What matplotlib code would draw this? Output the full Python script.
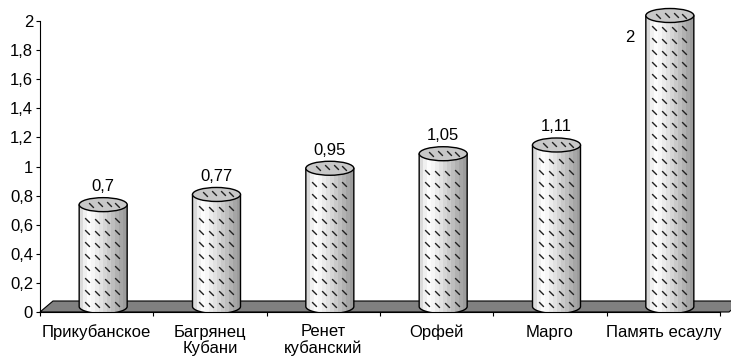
import numpy as np
import matplotlib.pyplot as plt
from matplotlib.patches import Ellipse, Polygon
from matplotlib.colors import ListedColormap

varieties = ['Прикубанское', 'Багрянец\nКубани', 'Ренет\nкубанский', 'Орфей', 'Марго', 'Память есаулу']
values = [0.7, 0.77, 0.95, 1.05, 1.11, 2]
value_labels = ['0,7', '0,77', '0,95', '1,05', '1,11', '2']
yticks = [0, 0.2, 0.4, 0.6, 0.8, 1, 1.2, 1.4, 1.6, 1.8, 2]
ytick_labels = ['0', '0,2', '0,4', '0,6', '0,8', '1', '1,2', '1,4', '1,6', '1,8', '2']

plt.rcParams['font.family'] = ['Liberation Sans', 'DejaVu Sans']
plt.rcParams['font.size'] = 12

W, H = 731, 360
left, right, bottom, top = 40, 720, 312, 21
fig = plt.figure(figsize=(W / 100, H / 100), dpi=100)

n = len(values)
px = n / (right - left)      # data units per pixel, x
py = 2 / (bottom - top)      # data units per pixel, y
head = 18                    # spare pixels above the top tick so tall bars aren't clipped
ax = fig.add_axes([left / W, (H - bottom) / H, (right - left) / W, (bottom - top + head) / H])
depth_x, depth_y = 13 * px, 11 * py

# floor slab
floor = Polygon([(-0.5, 0), (-0.5 + depth_x, depth_y), (n - 0.5 + 9 * px + depth_x, depth_y),
                 (n - 0.5 + 9 * px, 0)], closed=True, facecolor='#808080',
                edgecolor='black', lw=0.8, clip_on=False, zorder=1)
ax.add_patch(floor)

shade = ListedColormap(['#dadada', '#f0f0f0', '#fcfcfc', '#f6f6f6', '#ececec', '#e2e2e2',
                        '#d6d6d6', '#cacaca', '#bebebe', '#b2b2b2', '#a6a6a6', '#9c9c9c'])
grad = np.linspace(0, 1, 256).reshape(1, -1)

a = 24 * px   # cylinder half width
b = 7 * py    # half height of end ellipses
t = np.linspace(np.pi, 2 * np.pi, 60)
dash = [(-1, 1), (1, -1)]

for i, (v, lab) in enumerate(zip(values, value_labels)):
    cx = i + depth_x / 2
    yb = depth_y / 2
    yt = v + depth_y / 2
    ex = cx + a * np.cos(t)
    ey = yb + b * np.sin(t)
    body = np.vstack([[cx - a, yt], np.column_stack([ex, ey]), [cx + a, yt]])
    im = ax.imshow(grad, cmap=shade, extent=(cx - a, cx + a, 0, yt), aspect='auto',
                   zorder=2, interpolation='nearest')
    im.set_clip_path(Polygon(body, closed=True, transform=ax.transData))
    ax.add_patch(Polygon(body, closed=True, facecolor='none', edgecolor='black', lw=1.0, zorder=3))
    ax.add_patch(Ellipse((cx, yt), 2 * a, 2 * b, facecolor='#c8c8c8', edgecolor='black',
                         lw=1.0, zorder=4))

    # dash texture on the side and the top
    for off in [-16, -6, 4, 14]:
        xd = cx + off * px
        yd0 = yb - b * np.sqrt(1 - (off * px / a) ** 2) + 8 * py
        ys = np.arange(yd0, yt - b - 2 * py, 12 * py)
        ax.plot(np.full_like(ys, xd), ys, ls='none', marker=dash, ms=3.4, mew=1.0,
                color='#202020', zorder=3)
    ax.plot(cx + np.array([-12, -3, 6, 14]) * px, yt + np.array([0, 1, 1, 0]) * py, ls='none',
            marker=dash, ms=3.4, mew=1.0, color='#202020', zorder=5)

    if v >= 2:
        ax.text(cx - 40 * px, yt - 22 * py, lab, ha='center', va='center')
    else:
        ax.text(cx, yt + 18 * py, lab, ha='center', va='center')

ax.set_xlim(-0.5, n - 0.5)
ax.set_ylim(0, 2 + head * py)

ax.set_yticks(yticks)
ax.set_yticklabels(ytick_labels)
ax.set_xticks(np.arange(n + 1) - 0.5)
ax.set_xticklabels([])
ax.set_xticks(np.arange(n), minor=True)
ax.set_xticklabels(varieties, minor=True, linespacing=1.05)
ax.tick_params(axis='x', which='minor', length=0, pad=9)
ax.tick_params(axis='both', which='major', direction='out', length=3, width=0.8, pad=2)
for s in ['top', 'right']:
    ax.spines[s].set_visible(False)
ax.spines['left'].set_bounds(0, 2)
for s in ['left', 'bottom']:
    ax.spines[s].set_linewidth(0.8)
    ax.spines[s].set_zorder(6)

fig.savefig('out.png', dpi=100, facecolor='white')
